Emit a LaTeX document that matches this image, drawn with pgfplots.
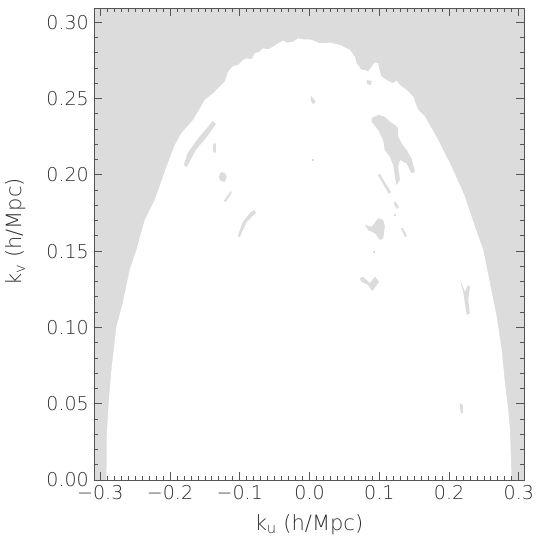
\documentclass[border=0pt]{standalone}
\usepackage{fontspec}
\setmainfont{DejaVu Sans ExtraLight}
\usepackage{pgfplots}
\pgfplotsset{compat=1.18}
\definecolor{bggray}{RGB}{220,220,220}
\definecolor{axgray}{RGB}{85,85,85}
\definecolor{txtgray}{RGB}{45,45,45}
\begin{document}
\begin{tikzpicture}
\begin{axis}[
  scale only axis,
  width=430pt, height=472pt,
  xmin=-0.309, xmax=0.3075,
  ymin=0, ymax=0.3093,
  axis on top,
  axis background/.style={fill=bggray},
  axis line style={axgray, line width=0.8pt},
  every tick/.style={axgray, line width=0.8pt},
  tick align=inside,
  xtick pos=both, ytick pos=both,
  xticklabel pos=lower, yticklabel pos=left,
  major tick length=8pt, minor tick length=4pt,
  xtick={-0.3,-0.2,-0.1,0,0.1,0.2,0.3},
  xticklabels={−0.3,−0.2,−0.1,0.0,0.1,0.2,0.3},
  ytick={0,0.05,0.10,0.15,0.20,0.25,0.30},
  yticklabels={0.00,0.05,0.10,0.15,0.20,0.25,0.30},
  minor x tick num=9,
  minor y tick num=4,
  tick label style={font=\fontsize{19}{19}\selectfont, text=txtgray},
  xticklabel style={yshift=-1.7pt},
  yticklabel style={xshift=-1.7pt},
  xlabel={k\textsubscript{u} (h/Mpc)},
  ylabel={k\textsubscript{v} (h/Mpc)},
  every axis x label/.style={at={(axis description cs:0.5,-0.0953)}, anchor=center,
    font=\fontsize{21}{21}\selectfont, text=txtgray},
  every axis y label/.style={at={(axis description cs:-0.1814,0.5255)}, anchor=center,
    rotate=90, font=\fontsize{21}{21}\selectfont, text=txtgray},
]
% accessible region of the (k_u, k_v) plane
\addplot[fill=white, draw=none] coordinates {
(-0.2912,0) (-0.2908,0.0282) (-0.2880,0.0505) (-0.2841,0.0721) (-0.2769,0.1003)
(-0.2679,0.1160) (-0.2578,0.1376) (-0.2482,0.1507) (-0.2363,0.1704) (-0.2220,0.1835)
(-0.2052,0.2051) (-0.1933,0.2195) (-0.1836,0.2274) (-0.1670,0.2359) (-0.1502,0.2490)
(-0.1383,0.2534) (-0.1215,0.2610) (-0.1168,0.2676) (-0.1096,0.2713) (-0.1024,0.2720)
(-0.0953,0.2752) (-0.0904,0.2763) (-0.0832,0.2757) (-0.0785,0.2796) (-0.0713,0.2807)
(-0.0666,0.2829) (-0.0594,0.2822) (-0.0522,0.2839) (-0.0451,0.2862) (-0.0379,0.2879)
(-0.0330,0.2866) (-0.0235,0.2872) (-0.0164,0.2894) (-0.0092,0.2888) (0.0004,0.2888)
(0.0148,0.2862) (0.0291,0.2866) (0.0435,0.2851) (0.0578,0.2818) (0.0650,0.2774)
(0.0674,0.2731) (0.0746,0.2687) (0.0793,0.2687) (0.0841,0.2676) (0.0890,0.2708)
(0.0937,0.2737) (0.0984,0.2731) (0.1009,0.2676) (0.1033,0.2643) (0.1105,0.2621)
(0.1199,0.2600) (0.1248,0.2617) (0.1296,0.2588) (0.1392,0.2556) (0.1486,0.2512)
(0.1558,0.2425) (0.1654,0.2381) (0.1845,0.2228) (0.2037,0.2053) (0.2228,0.1857)
(0.2372,0.1660) (0.2491,0.1507) (0.2587,0.1289) (0.2683,0.1070) (0.2755,0.0852)
(0.2802,0.0634) (0.2849,0.0459) (0.2874,0.0328) (0.2898,0)
} --cycle;
% excluded patches inside the region
\pgfplotsset{patch/.style={fill=bggray, draw=none, forget plot}}
\addplot[patch] coordinates {(-0.1387,0.2353) (-0.1344,0.2333) (-0.1473,0.2248) (-0.1631,0.2163)
  (-0.1760,0.2051) (-0.1803,0.2064) (-0.1746,0.2143) (-0.1603,0.2235) (-0.1459,0.2313)} --cycle;
\addplot[patch] coordinates {(-0.1373,0.2208) (-0.1344,0.2202) (-0.1344,0.2149) (-0.1373,0.2143) (-0.1387,0.2176)} --cycle;
\addplot[patch] coordinates {(-0.1273,0.2018) (-0.1215,0.2012) (-0.1187,0.1986) (-0.1215,0.1953) (-0.1273,0.1959) (-0.1301,0.1986)} --cycle;
\addplot[patch] coordinates {(-0.1129,0.1894) (-0.1115,0.1881) (-0.1201,0.1822) (-0.1230,0.1828)} --cycle;
\addplot[patch] coordinates {(-0.0785,0.1769) (-0.0770,0.1750) (-0.0900,0.1691) (-0.1000,0.1592)
  (-0.1029,0.1599) (-0.0957,0.1691) (-0.0842,0.1756)} --cycle;
\addplot[patch] coordinates {(0.0019,0.2516) (0.0062,0.2497) (0.0090,0.2477) (0.0047,0.2464) (0.0019,0.2484)} --cycle;
\addplot[patch] coordinates {(0.0040,0.2105) (0.0060,0.2105) (0.0060,0.2090) (0.0040,0.2090)} --cycle;
\addplot[patch] coordinates {(0.0890,0.2370) (0.0984,0.2392) (0.1080,0.2381) (0.1152,0.2348)
  (0.1224,0.2326) (0.1271,0.2305) (0.1271,0.2250) (0.1320,0.2206) (0.1392,0.2162)
  (0.1463,0.2108) (0.1511,0.2020) (0.1463,0.2010) (0.1392,0.2075) (0.1296,0.2097)
  (0.1271,0.2053) (0.1296,0.1966) (0.1248,0.1933) (0.1224,0.1988) (0.1199,0.2064)
  (0.1152,0.2119) (0.1080,0.2163) (0.1056,0.2228) (0.0984,0.2293) (0.0890,0.2348)} --cycle;
\addplot[patch] coordinates {(0.0980,0.1999) (0.1009,0.2005) (0.1166,0.1887) (0.1138,0.1874)} --cycle;
\addplot[patch] coordinates {(0.1224,0.1828) (0.1281,0.1789) (0.1253,0.1776) (0.1209,0.1809)} --cycle;
\addplot[patch] coordinates {(0.1215,0.1745) (0.1235,0.1745) (0.1235,0.1728) (0.1215,0.1728)} --cycle;
\addplot[patch] coordinates {(0.0793,0.1671) (0.0890,0.1660) (0.0984,0.1715) (0.1056,0.1704)
  (0.1080,0.1660) (0.1056,0.1584) (0.1009,0.1573) (0.0937,0.1617) (0.0841,0.1638)} --cycle;
\addplot[patch] coordinates {(0.1310,0.1651) (0.1339,0.1651) (0.1396,0.1599) (0.1367,0.1592)} --cycle;
\addplot[patch] coordinates {(0.0917,0.1503) (0.0937,0.1503) (0.0937,0.1489) (0.0917,0.1489)} --cycle;
\addplot[patch] coordinates {(0.0722,0.1322) (0.0769,0.1332) (0.0865,0.1289) (0.0937,0.1332)
  (0.0999,0.1299) (0.0912,0.1245) (0.0890,0.1240) (0.0841,0.1278) (0.0746,0.1299)} --cycle;
\addplot[patch] coordinates {(0.2156,0.1311) (0.2228,0.1234) (0.2275,0.1278) (0.2300,0.1265)
  (0.2275,0.1180) (0.2300,0.1092) (0.2253,0.1081) (0.2228,0.1158) (0.2204,0.1234) (0.2181,0.1267)} --cycle;
\addplot[patch] coordinates {(0.2156,0.0505) (0.2199,0.0491) (0.2199,0.0439) (0.2171,0.0439) (0.2156,0.0472)} --cycle;
\addplot[patch] coordinates {(0.0818,0.2621) (0.0890,0.2615) (0.0880,0.2588) (0.0823,0.2595)} --cycle;
\end{axis}
\pgfresetboundingbox
\path (current axis.south west) ++(-94pt,-68pt) rectangle ++(535pt,548pt);
\end{tikzpicture}
\end{document}
